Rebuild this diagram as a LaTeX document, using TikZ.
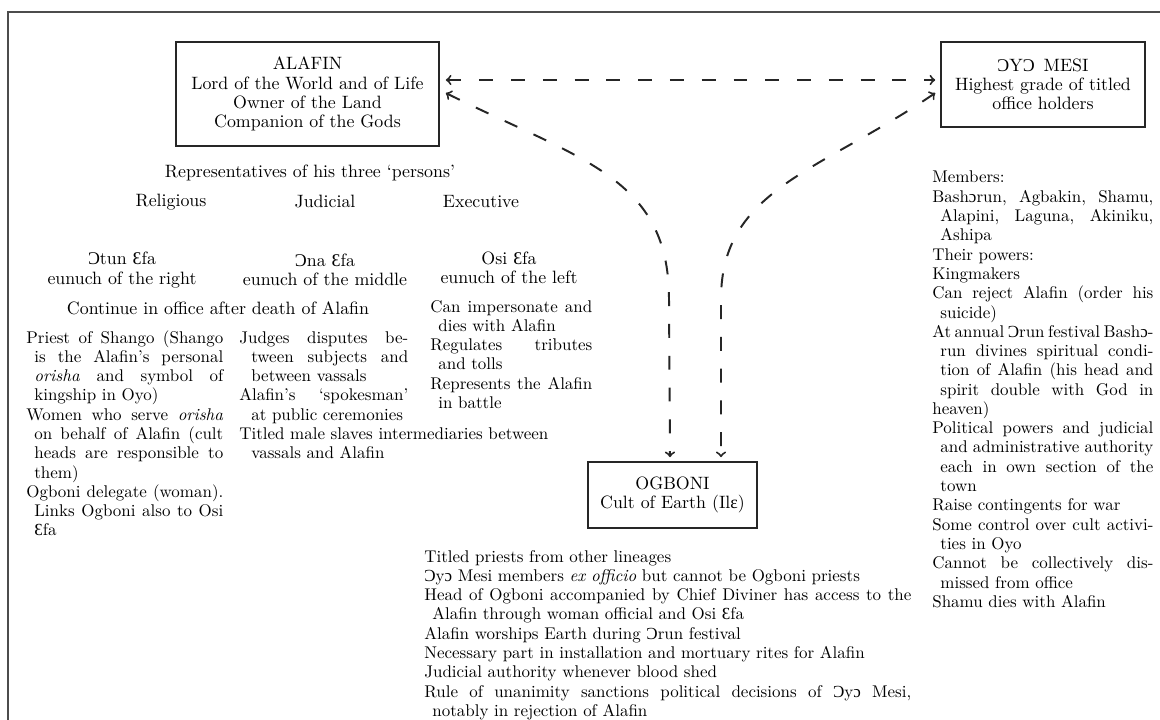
\documentclass[tikz,border=0pt]{standalone}
\usepackage{fontspec}
\usepackage{xcolor}
\usepackage{tikz}
\usetikzlibrary{calc}
\usetikzlibrary{arrows}
\newfontfamily\ipafont{Liberation Serif}
\newcommand{\Oopen}{{\ipafont Ɔ}}
\newcommand{\oopen}{{\ipafont ɔ}}
\newcommand{\Eopen}{{\ipafont Ɛ}}
\newcommand{\eopen}{{\ipafont ɛ}}
\newcommand{\headfont}{\fontsize{10pt}{10.8pt}\selectfont}
\newcommand{\colfont}{\fontsize{9.5pt}{10.8pt}\selectfont}
\newcommand{\colset}{\tolerance=10000\pretolerance=-1\hyphenpenalty=10000\spaceskip=.333em plus .6em minus .2em\relax}
\newcommand{\hang}[1][4.5pt]{\hangindent=#1\hangafter=1\relax}

\begin{document}
\begin{tikzpicture}[x=0.56pt,y=-0.56pt,
  office/.style={draw=black!85, line width=0.9pt, align=center, inner sep=0pt,
    font=\fontsize{10pt}{10.7pt}\selectfont},
  heading/.style={align=center, inner sep=0pt, font=\headfont},
  textcol/.style={anchor=base west, align=justify, inner sep=0pt, text width=#1,
    font=\colfont\colset},
  dashlink/.style={<->, >=to, line width=1.1pt, black!85,
    dash pattern=on 7.8pt off 10pt},
  frameline/.style={line width=1.4pt, black!70}]
  \useasboundingbox (0,0) rectangle (1160,720);
  \fill[white] (0,0) rectangle (1160,720);
  \draw[frameline] (8,720) -- (8,12) -- (1160,12);

  \node[office, minimum width=147.3pt, minimum height=58.2pt] (alafin) at (307.5,94)
    {ALAFIN\\Lord of the World and of Life\\Owner of the Land\\Companion of the Gods};
  \node[office, minimum width=114.2pt, minimum height=47.6pt] (oyomesi) at (1043,84.5)
    {\Oopen Y\Oopen\enspace MESI\\Highest grade of titled\\office holders};
  \node[office, minimum width=94.6pt, minimum height=37pt] (ogboni) at (672.5,495)
    {OGBONI\\Cult of Earth (Il\eopen)};

  \node[heading] (persons) at (310,173) {Representatives of his three `persons'};
  \node[heading] (religious) at (171,202) {Religious};
  \node[heading] (judicial) at (325,202) {Judicial};
  \node[heading] (executive) at (481,202) {Executive};
  \node[heading] (otun) at (122,270) {\Oopen tun \Eopen fa\\eunuch of the right};
  \node[heading] (ona) at (325,270) {\Oopen na \Eopen fa\\eunuch of the middle};
  \node[heading] (osi) at (509,268) {Osi \Eopen fa\\eunuch of the left};
  \node[heading] (continue) at (218,308) {Continue in office after death of Alafin};

  \node[textcol=110.3pt] (relcol) at (26,343) {\hang Priest of Shango (Shango\linebreak
    is the Alafin's personal\linebreak
    \textit{orisha} and symbol of\linebreak
    kingship in Oyo)\par
    \hang Women who serve \textit{orisha}\linebreak
    on behalf of Alafin (cult\linebreak
    heads are responsible to\linebreak
    them)\par
    \hang Ogboni delegate (woman).\linebreak
    Links Ogboni also to Osi\linebreak
    \Eopen fa\par};
  \node[textcol=94.6pt] (judcol) at (239,343) {\hang[6.7pt]Judges disputes be-\linebreak
    tween subjects and\linebreak
    between vassals\par
    \hang[6.7pt]Alafin's `spokesman'\linebreak
    at public ceremonies\par
    \hang[6.7pt]\leavevmode\rlap{Titled male slaves intermediaries between}\hfill\break
    vassals and Alafin\par};
  \node[textcol=90.7pt] (execol) at (430,312) {\hang Can impersonate and\linebreak
    dies with Alafin\par
    \hang Regulates tributes\linebreak
    and tolls\par
    \hang Represents the Alafin\linebreak
    in battle\par};

  \node[textcol=123.8pt] (members) at (932,183) {Members:\par
    \hang Bash\oopen run, Agbakin, Shamu,\linebreak
    Alapini, Laguna, Akiniku,\linebreak
    Ashipa\par
    Their powers:\par
    Kingmakers\par
    \hang Can reject Alafin (order his\linebreak
    suicide)\par
    \hang At annual \Oopen run festival Bash\oopen-\linebreak
    run divines spiritual condi-\linebreak
    tion of Alafin (his head and\linebreak
    spirit double with God in\linebreak
    \hspace*{-4.5pt}heaven)\par
    \hang Political powers and judicial\linebreak
    and administrative authority\linebreak
    each in own section of the\linebreak
    town\par
    Raise contingents for war\par
    \hang Some control over cult activi-\linebreak
    ties in Oyo\par
    \hang Cannot be collectively dis-\linebreak
    missed from office\par
    Shamu dies with Alafin\par};

  \node[textcol=272.7pt] (ogbcol) at (424,562) {Titled priests from other lineages\par
    \Oopen y\oopen{} Mesi members \textit{ex officio} but cannot be Ogboni priests\par
    \hang Head of Ogboni accompanied by Chief Diviner has access to the\linebreak
    Alafin through woman official and Osi \Eopen fa\par
    Alafin worships Earth during \Oopen run festival\par
    Necessary part in installation and mortuary rites for Alafin\par
    Judicial authority whenever blood shed\par
    \hang Rule of unanimity sanctions political decisions of \Oopen y\oopen{} Mesi,\linebreak
    notably in rejection of Alafin\par};

  \coordinate (lbend) at ($(ogboni.north)+(-3.5,-162)$);
  \coordinate (rbend) at ($(ogboni.north)+(48.5,-162)$);
  \draw[dashlink] ($(alafin.east)+(6,-14)$) -- ($(oyomesi.west)+(-5,-4.5)$);
  \draw[dashlink] ($(alafin.east)+(6,-1)$) .. controls +(135,67) and +(0,-122) .. (lbend)
    -- ($(ogboni.north)+(-2.5,-4)$);
  \draw[dashlink] ($(oyomesi.west)+(-5,8.5)$) .. controls +(-116,79) and +(0,-110) .. (rbend)
    -- ($(ogboni.north)+(48.5,-4)$);
\end{tikzpicture}
\end{document}
